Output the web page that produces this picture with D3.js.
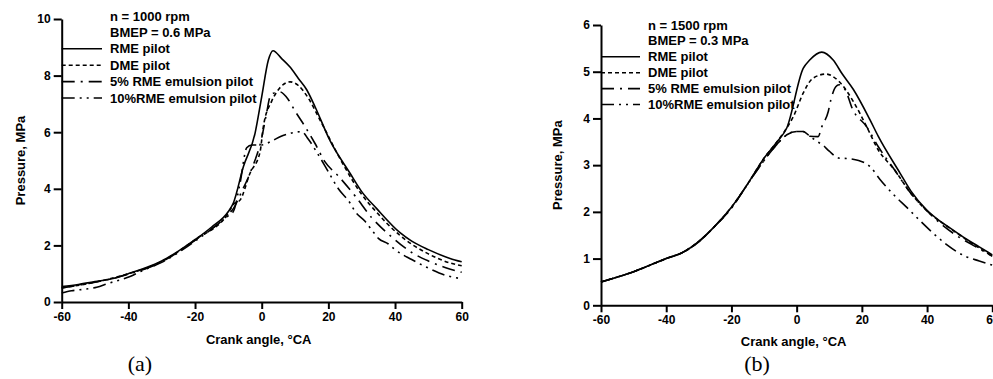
<!DOCTYPE html>
<html>
<head>
<meta charset="utf-8">
<script src="https://cdn.jsdelivr.net/npm/d3@7"></script>
<style>
	html, body { margin: 0; padding: 0; background: #fff; }
	svg { display: block; }
	.tick text { font-family: "Liberation Sans", Arial, sans-serif; font-weight: bold; font-size: 12px; fill: #000; }
	.lbl { font-family: "Liberation Sans", Arial, sans-serif; font-weight: bold; font-size: 13px; fill: #000; }
	.cap { font-family: "Liberation Serif", "Times New Roman", serif; font-size: 22px; fill: #000; }
</style>
</head>
<body>
<div id="chartDiv"></div>
<script>
;(function() {

	// crank angle, degCA
	var anglesA_rme = [-60, -55, -50, -45, -40, -35, -30, -25, -20, -15, -10, -8.5, -5.5, -2, 0, 2, 3.4, 6, 8.5, 11, 13.5, 16, 20.5, 26.5, 30, 34.5, 41.5, 45, 50, 56.5, 60];
	var pressA_rme = [0.55, 0.62, 0.72, 0.82, 1.0, 1.2, 1.45, 1.8, 2.2, 2.65, 3.2, 3.5, 4.78, 5.96, 7.25, 8.55, 8.88, 8.6, 8.3, 7.9, 7.5, 6.9, 5.7, 4.55, 3.9, 3.3, 2.45, 2.15, 1.85, 1.54, 1.42];

	var anglesA_dme = [-60, -50, -40, -30, -20, -10, -8.5, -6.5, -3.5, -0.5, 0.5, 3, 5, 8.5, 11, 14, 17.5, 24.5, 30, 33.5, 41.5, 50, 56.5, 60];
	var pressA_dme = [0.5, 0.7, 1.0, 1.43, 2.2, 3.15, 3.45, 3.6, 4.55, 5.3, 6.2, 7.1, 7.5, 7.78, 7.65, 7.2, 6.43, 4.85, 3.8, 3.3, 2.35, 1.7, 1.38, 1.28];

	var anglesA_e5 = [-60, -50, -40, -30, -20, -10, -8.5, -6, -3, 0, 1.5, 2.5, 4, 5.5, 8, 10, 13, 16, 19, 23, 28, 33, 39, 45, 50, 55, 60];
	var pressA_e5 = [0.5, 0.7, 0.98, 1.42, 2.18, 3.1, 3.3, 3.9, 4.7, 5.8, 6.7, 7.25, 7.4, 7.42, 7.15, 6.75, 6.2, 5.6, 4.95, 4.45, 3.75, 2.98, 2.3, 1.75, 1.45, 1.22, 1.05];

	var anglesA_e10 = [-60, -57, -55.5, -52.5, -49.5, -46, -42.5, -39.5, -36.5, -30, -20, -10, -8.5, -6.5, -4.5, -3, 0, 3.5, 5.5, 8.5, 12, 14, 17, 20, 23, 26.5, 28, 31, 33, 35, 38, 40, 45, 50, 55, 60];
	var pressA_e10 = [0.32, 0.4, 0.42, 0.46, 0.52, 0.66, 0.78, 0.9, 1.07, 1.4, 2.15, 3.05, 3.2, 4.2, 5.45, 5.55, 5.55, 5.72, 5.84, 5.96, 6.02, 5.75, 5.2, 4.6, 4.0, 3.5, 3.2, 2.85, 2.55, 2.25, 2.05, 1.85, 1.5, 1.2, 0.95, 0.82];

	var anglesB_rme = [-60, -50, -40, -35, -30, -25, -20, -15, -10, -6, -3, 2, 4, 7.7, 11.2, 14, 17.4, 22.5, 25, 31.7, 35, 39.9, 44, 48, 52, 56, 60];
	var pressB_rme = [0.5, 0.72, 1.0, 1.13, 1.37, 1.7, 2.1, 2.6, 3.15, 3.5, 3.8, 5.07, 5.25, 5.42, 5.25, 4.95, 4.62, 3.97, 3.62, 2.83, 2.45, 2.04, 1.8, 1.61, 1.42, 1.25, 1.08];

	var anglesB_dme = [-60, -50, -40, -35, -30, -25, -20, -15, -10, -6, -3, -1, 2, 5, 9, 13, 17.4, 21.5, 25, 30, 35, 40, 48, 55, 60];
	var pressB_dme = [0.5, 0.72, 1.0, 1.13, 1.37, 1.7, 2.1, 2.6, 3.15, 3.5, 3.8, 4.04, 4.54, 4.86, 4.95, 4.79, 4.36, 3.82, 3.33, 2.9, 2.4, 2.02, 1.6, 1.27, 1.05];

	var anglesB_e5 = [-60, -50, -40, -35, -30, -25, -20, -15, -10, -6, -3, 0, 2, 4, 6.6, 7.7, 9.7, 10.5, 12, 13, 15, 17, 21.5, 25, 30, 35, 40, 45, 50, 55, 60];
	var pressB_e5 = [0.5, 0.72, 1.0, 1.13, 1.36, 1.7, 2.08, 2.6, 3.1, 3.45, 3.65, 3.72, 3.72, 3.62, 3.61, 3.82, 4.15, 4.4, 4.68, 4.72, 4.6, 4.22, 3.82, 3.4, 2.9, 2.4, 2.02, 1.7, 1.45, 1.25, 1.05];

	var anglesB_e10 = [-60, -50, -40, -35, -30, -25, -20, -15, -10, -6, -3, 0, 2, 4, 6, 8, 10, 13, 16, 19, 22.5, 25.5, 30, 33.7, 38, 41.9, 46, 52, 56, 60];
	var pressB_e10 = [0.5, 0.72, 1.0, 1.13, 1.36, 1.7, 2.08, 2.6, 3.1, 3.45, 3.65, 3.72, 3.72, 3.62, 3.52, 3.43, 3.3, 3.15, 3.14, 3.1, 2.97, 2.7, 2.35, 2.1, 1.8, 1.54, 1.3, 1.04, 0.95, 0.86];

	var xTicks = [-60, -40, -20, 0, 20, 40, 60];
	var yTicksA = [0, 2, 4, 6, 8, 10];
	var yTicksB = [0, 1, 2, 3, 4, 5, 6];

	var seriesNames = ["RME pilot", "DME pilot", "5% RME emulsion pilot", "10%RME emulsion pilot"];
	var DASHES = [null, "4,3", "13,6,2,6", "13,5,2,5,2,5"];

	var width = 993;
	var height = 379;

	var chart = d3.select("#chartDiv").append("svg")
		.attr("width", width)
		.attr("height", height);

	chart.append("rect").attr("width", width).attr("height", height).attr("fill", "#fff");

	drawPanel({
		xRange: [61.7, 461.7], yRange: [302, 19], yMax: 10, yTicks: yTicksA,
		header: ["n = 1000 rpm", "BMEP = 0.6 MPa"], legendX: 110, legendTop: 16, legendStep: 16.4, legendLineEnd: 102,
		yTitleX: 20, caption: "(a)", captionX: 140, xTitleY: 344,
		series: [[anglesA_rme, pressA_rme], [anglesA_dme, pressA_dme], [anglesA_e5, pressA_e5], [anglesA_e10, pressA_e10]]
	});

	drawPanel({
		xRange: [601, 992.3], yRange: [305.3, 25], yMax: 6, yTicks: yTicksB,
		header: ["n = 1500 rpm", "BMEP = 0.3 MPa"], legendX: 648, legendTop: 25, legendStep: 15.9, legendLineEnd: 640,
		yTitleX: 557, caption: "(b)", captionX: 757, xTitleY: 346,
		series: [[anglesB_rme, pressB_rme], [anglesB_dme, pressB_dme], [anglesB_e5, pressB_e5], [anglesB_e10, pressB_e10]]
	});

	function drawPanel(p) {
		var xScale = d3.scaleLinear().domain([-60, 60]).range(p.xRange);
		var yScale = d3.scaleLinear().domain([0, p.yMax]).range(p.yRange);

		// plain hyphen minus, as in the original figure
		var fmt = function(d) { return String(d); };

		var xAxis = d3.axisBottom(xScale).tickValues(xTicks).tickFormat(fmt).tickSize(7).tickSizeOuter(0).tickPadding(3);
		var yAxis = d3.axisLeft(yScale).tickValues(p.yTicks).tickFormat(fmt).tickSize(8).tickSizeOuter(0).tickPadding(3);

		var gx = chart.append("g")
			.attr("transform", "translate(0," + p.yRange[0] + ")")
			.call(xAxis);
		var gy = chart.append("g")
			.attr("transform", "translate(" + p.xRange[0] + ",0)")
			.call(yAxis);
		[gx, gy].forEach(function(g) {
			g.select(".domain").attr("stroke", "#000").attr("stroke-width", 2);
			g.selectAll(".tick line").attr("stroke", "#000").attr("stroke-width", 2);
		});

		// curves
		var line = d3.line()
			.x(function(d) { return xScale(d[0]); })
			.y(function(d) { return yScale(d[1]); })
			.curve(d3.curveMonotoneX);

		p.series.forEach(function(s, i) {
			var pts = s[0].map(function(a, k) { return [a, s[1][k]]; });
			chart.append("path")
				.datum(pts)
				.attr("fill", "none")
				.attr("stroke", "#000")
				.attr("stroke-width", 1.6)
				.attr("stroke-dasharray", DASHES[i])
				.attr("d", line);
		});

		// legend
		var lx = p.xRange[0];
		p.header.forEach(function(t, i) {
			chart.append("text").attr("class", "lbl")
				.attr("x", p.legendX).attr("y", p.legendTop + i * p.legendStep)
				.attr("dy", "0.35em").text(t);
		});
		seriesNames.forEach(function(name, i) {
			var yy = p.legendTop + (i + 2) * p.legendStep;
			chart.append("line")
				.attr("x1", lx).attr("x2", p.legendLineEnd)
				.attr("y1", yy).attr("y2", yy)
				.attr("stroke", "#000").attr("stroke-width", 1.6)
				.attr("stroke-dasharray", DASHES[i]);
			chart.append("text").attr("class", "lbl")
				.attr("x", p.legendX).attr("y", yy)
				.attr("dy", "0.35em").text(name);
		});

		// axis titles
		var midY = (p.yRange[0] + p.yRange[1]) / 2;
		chart.append("text").attr("class", "lbl")
			.attr("text-anchor", "middle")
			.attr("transform", "translate(" + p.yTitleX + "," + midY + ") rotate(-90)")
			.attr("dy", "0.35em")
			.text("Pressure, MPa");

		chart.append("text").attr("class", "lbl")
			.attr("text-anchor", "middle")
			.attr("x", xScale(0) - 3).attr("y", p.xTitleY)
			.text("Crank angle, \u00b0CA");

		chart.append("text").attr("class", "cap")
			.attr("text-anchor", "middle")
			.attr("x", p.captionX).attr("y", 371)
			.text(p.caption);
	}
})();
</script>
</body>
</html>
